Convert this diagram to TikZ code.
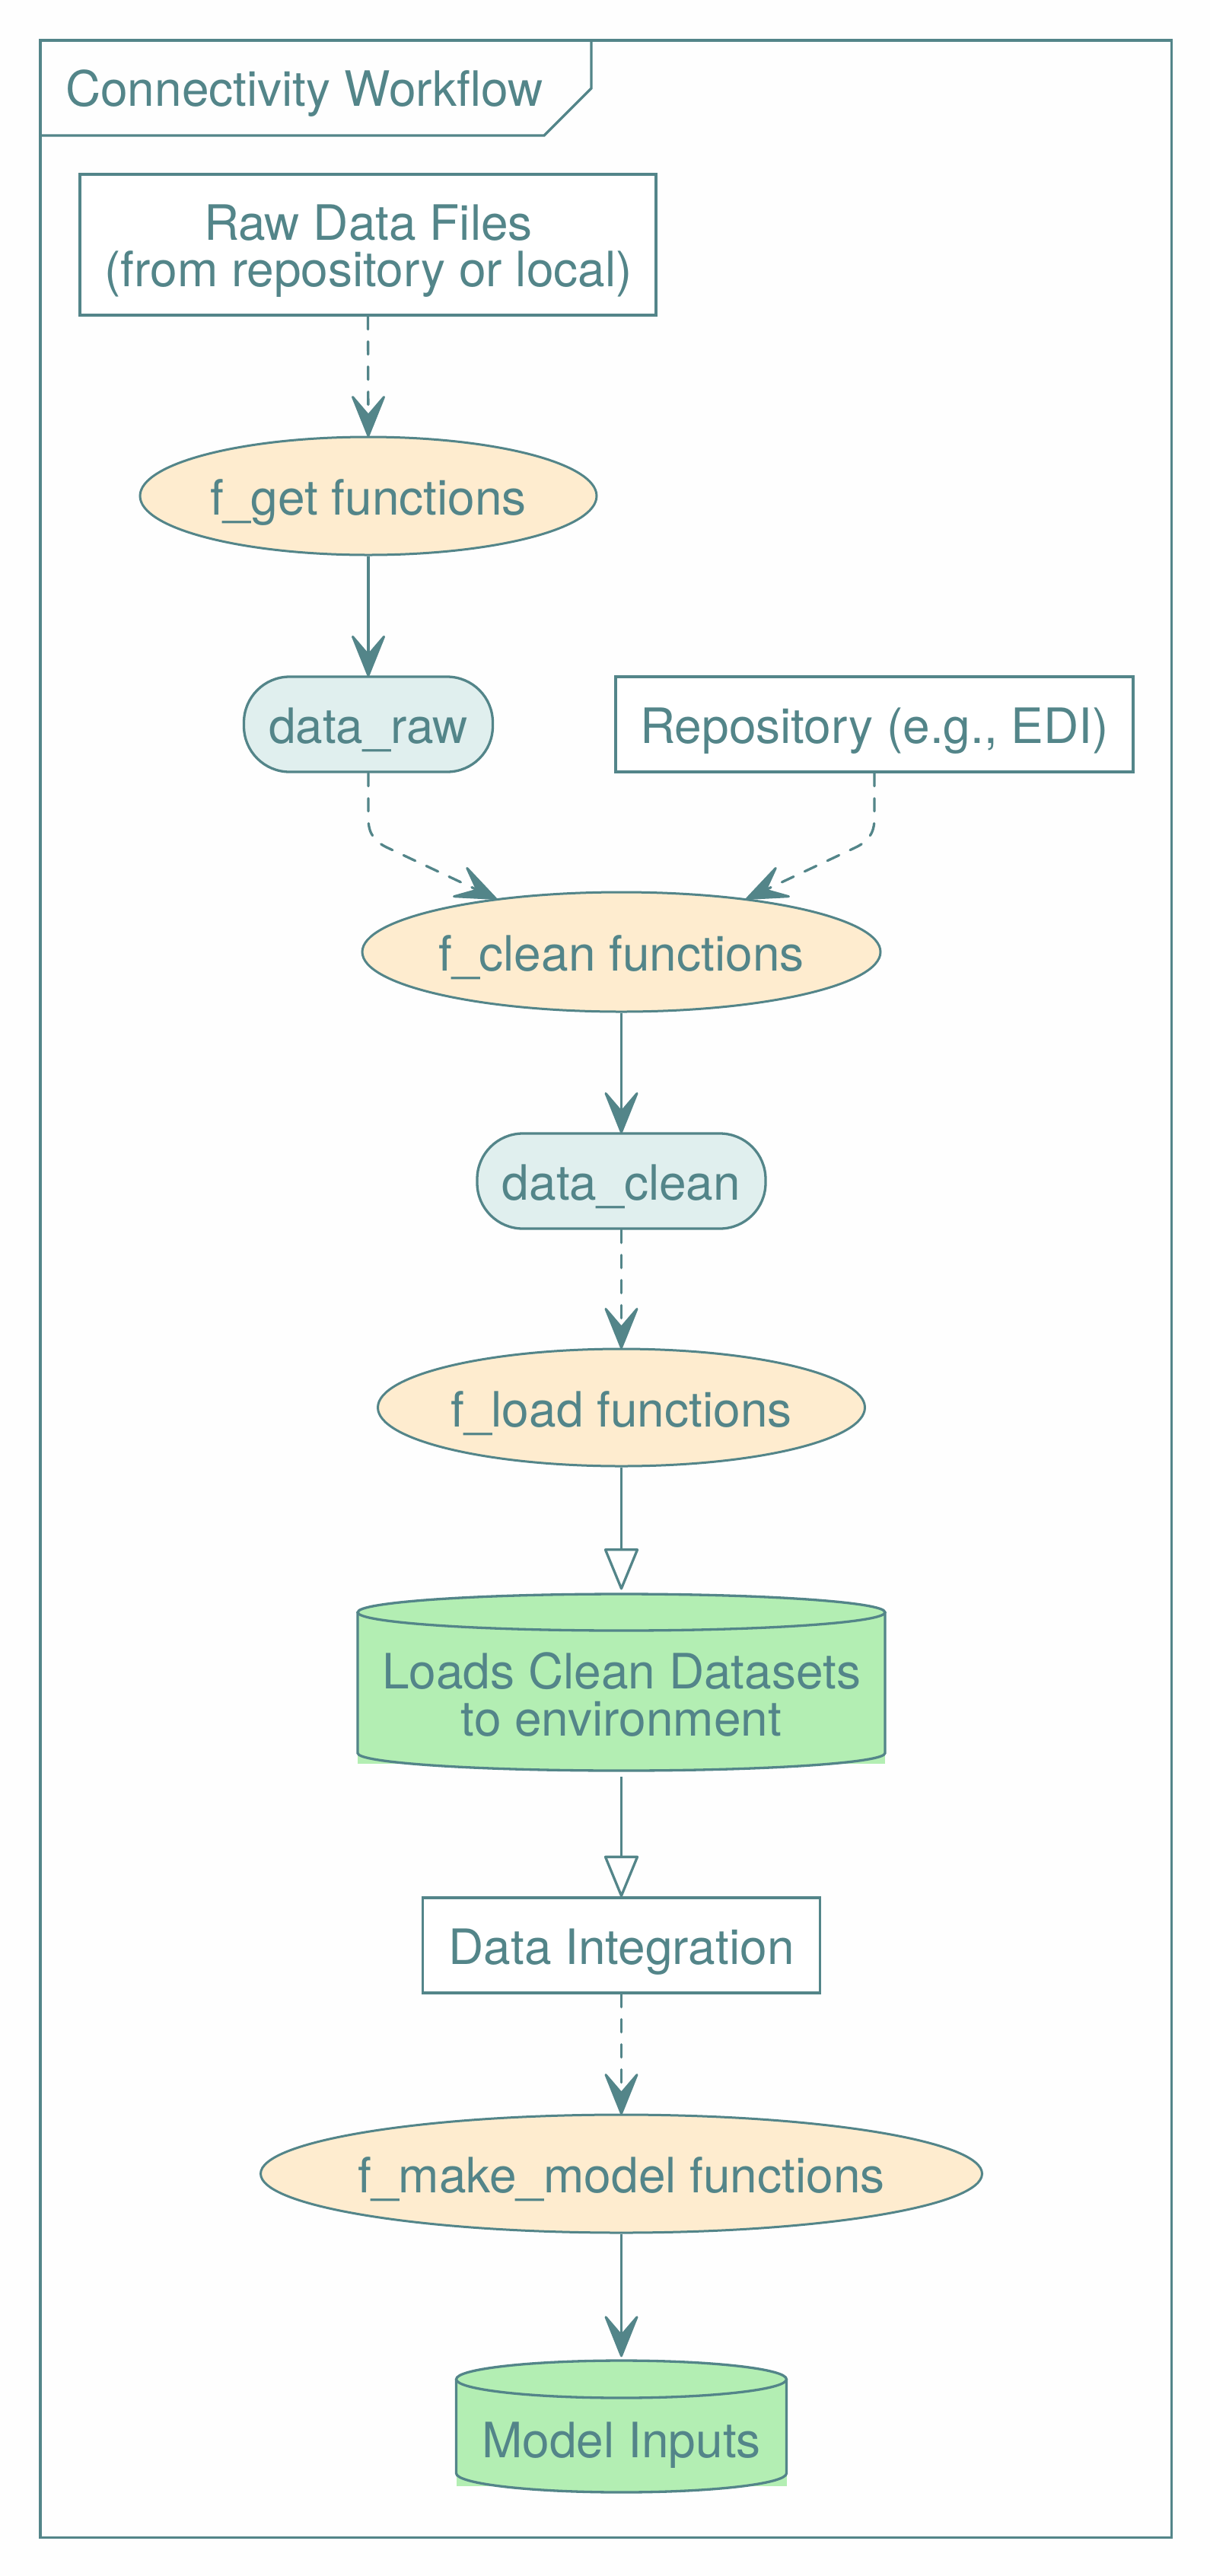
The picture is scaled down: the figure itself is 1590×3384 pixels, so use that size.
\documentclass[tikz,border=0pt]{standalone}
\usepackage{fontspec}
\setmainfont{TeX Gyre Heros}
\usetikzlibrary{shapes.geometric}
\definecolor{ink}{HTML}{538589}
\definecolor{creamfill}{HTML}{FEECCF}
\definecolor{rawfill}{HTML}{E0EFEE}
\definecolor{dbfill}{HTML}{B3EEB3}
\definecolor{bg}{HTML}{FEFEFE}
\newcommand{\zw}[1]{\makebox[0pt]{#1}}
\tikzset{
  lw/.style={line width=3.3pt},
  txt/.style={font=\fontsize{64pt}{62pt}\selectfont, text=ink, inner sep=0pt},
  onel/.style={txt, text height=50pt, text depth=0pt},
  boxnode/.style={rectangle, draw=ink, lw, fill=white, onel},
  fnnode/.style={ellipse, draw=ink, line width=3pt, fill=creamfill, onel},
  datanode/.style={rectangle, rounded corners=60pt, draw=ink, lw, fill=rawfill, onel},
  holder/.style={rectangle, inner sep=0pt},
  conn/.style={draw=ink, lw},
  dashconn/.style={conn, dash pattern=on 17pt off 16pt, line cap=round},
  stealthhead/.pic={\filldraw[draw=ink, fill=ink, line width=3pt, line join=round]
      (0,0) -- (-20.5,-51) -- (0,-27) -- (20.5,-51) -- cycle;},
  trihead/.pic={\filldraw[draw=ink, fill=bg, line width=3.3pt, line join=round]
      (0,0) -- (-21,-51) -- (21,-51) -- cycle;},
}
\begin{document}
\begin{tikzpicture}[x=1pt,y=-1pt]
\fill[bg] (0,0) rectangle (1590,3384);
\useasboundingbox (0,0) rectangle (1590,3384);

% frame and title tab
\draw[ink, line width=3.8pt] (53,53) rectangle (1539.5,3333.5);
\draw[ink, lw, line join=miter] (53,178) -- (715,178) -- (777,116) -- (777,53);
\node[txt, anchor=base west] (title) at (86,139.5) {Connectivity Workflow};

% nodes
\node[boxnode, minimum width=757pt, minimum height=185pt] (raw) at (483.5,321.5) {};
\node[txt, anchor=base] (rawt1) at (484,315.5) {Raw Data Files};
\node[txt, anchor=base] (rawt2) at (484,376) {(from repository or local)};

\node[fnnode, minimum width=600pt, minimum height=155pt] (fget) at (484,651.5) {\zw{f\_get functions}};
\node[datanode, minimum width=327pt, minimum height=125pt] (draw) at (484,951.5) {data\_raw};
\node[boxnode, minimum width=680pt, minimum height=125pt] (repo) at (1149,951.5) {Repository (e.g., EDI)};
\node[fnnode, minimum width=681pt, minimum height=157pt] (fclean) at (816.5,1250.5) {\zw{f\_clean functions}};
\node[datanode, minimum width=379pt, minimum height=125pt] (dclean) at (816.5,1551.5) {data\_clean};
\node[fnnode, minimum width=640pt, minimum height=154pt] (fload) at (816.5,1849) {\zw{f\_load functions}};

% Loads cylinder
\node[holder, minimum width=693pt, minimum height=232pt] (loads) at (816.5,2210) {};
\fill[dbfill] (470,2118) rectangle (1163,2317);
\fill[dbfill] (470,2303) arc[start angle=180,end angle=360,x radius=346.5pt,y radius=23pt] -- cycle;
\fill[dbfill] (816.5,2118) ellipse[x radius=346.5pt,y radius=24pt];
\draw[ink, lw] (470,2118) -- (470,2303) arc[start angle=180,end angle=360,x radius=346.5pt,y radius=23pt] -- (1163,2118);
\draw[ink, lw] (816.5,2118) ellipse[x radius=346.5pt,y radius=24pt];
\node[txt, anchor=base] (loadst1) at (816.5,2218) {Loads Clean Datasets};
\node[txt, anchor=base] (loadst2) at (816.5,2280) {to environment};

\node[boxnode, minimum width=522pt, minimum height=125pt] (dint) at (816.5,2555.5) {Data Integration};
\node[fnnode, minimum width=948pt, minimum height=155pt] (fmake) at (816.5,2855.5) {\zw{f\_make\_model functions}};

% Model Inputs cylinder
\node[holder, minimum width=434pt, minimum height=173pt] (model) at (816.5,3187.5) {};
\fill[dbfill] (599.5,3125.5) rectangle (1033.5,3266);
\fill[dbfill] (599.5,3249) arc[start angle=180,end angle=360,x radius=217pt,y radius=25pt] -- cycle;
\fill[dbfill] (816.5,3125.5) ellipse[x radius=217pt,y radius=24.5pt];
\draw[ink, lw] (599.5,3125.5) -- (599.5,3249) arc[start angle=180,end angle=360,x radius=217pt,y radius=25pt] -- (1033.5,3125.5);
\draw[ink, lw] (816.5,3125.5) ellipse[x radius=217pt,y radius=24.5pt];
\node[txt, anchor=base] (modelt) at (816.5,3228) {Model Inputs};

% connectors
\draw[dashconn, shorten >=27pt] (raw.south) -- (fget.north);
\pic at (fget.north) {stealthhead};

\draw[conn, shorten >=27pt] (fget.south) -- (draw.north);
\pic at (draw.north) {stealthhead};

\coordinate (l1) at (484,1075);
\coordinate (l2) at (510,1114);
\draw[dashconn, shorten >=27pt] (draw.south) -- (l1) .. controls (484,1095) and (491.8,1105.6) .. (l2) -- (fclean.157);
\pic[rotate=65.2] at (fclean.157) {stealthhead};

\coordinate (r1) at (1149,1075);
\coordinate (r2) at (1122.7,1114);
\draw[dashconn, shorten >=27pt] (repo.south) -- (r1) .. controls (1149,1095) and (1140.9,1105.6) .. (r2) -- (fclean.23);
\pic[rotate=-65.2] at (fclean.23) {stealthhead};

\draw[conn, shorten >=27pt] (fclean.south) -- (dclean.north);
\pic at (dclean.north) {stealthhead};

\draw[dashconn, shorten >=27pt] (dclean.south) -- (fload.north);
\pic at (fload.north) {stealthhead};

\draw[conn, shorten >=58pt] (fload.south) -- (loads.north);
\pic at ([yshift=7pt]loads.north) {trihead};

\draw[conn, shorten <=8pt, shorten >=52pt] (loads.south) -- (dint.north);
\pic at ([yshift=1pt]dint.north) {trihead};

\draw[dashconn, shorten >=27pt] (dint.south) -- (fmake.north);
\pic at (fmake.north) {stealthhead};

\draw[conn, shorten >=33pt] (fmake.south) -- (model.north);
\pic at ([yshift=6pt]model.north) {stealthhead};
\end{tikzpicture}
\end{document}
